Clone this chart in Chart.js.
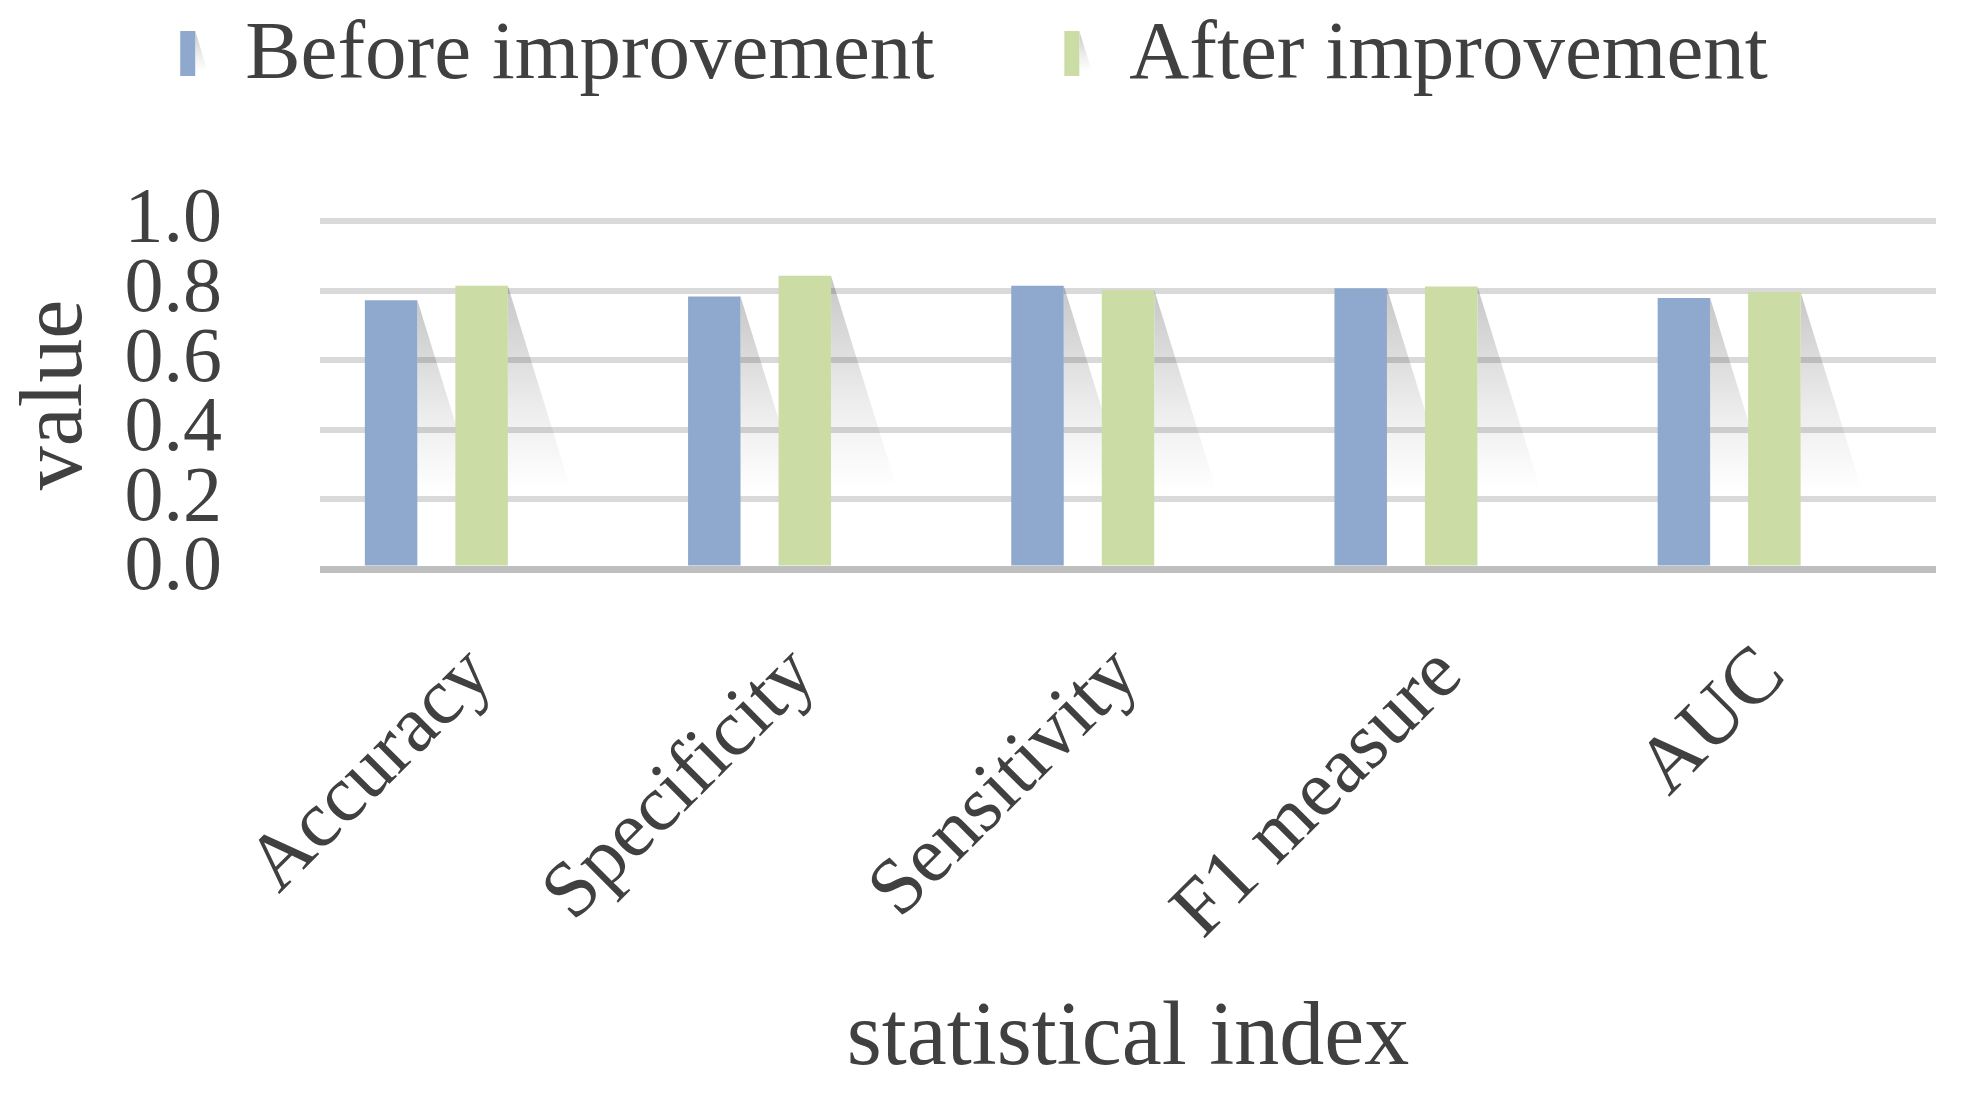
<!DOCTYPE html>
<html>
<head>
<meta charset="utf-8">
<script src="https://cdn.jsdelivr.net/npm/chart.js@4.4.1/dist/chart.umd.min.js"></script>
<style>
    html, body { margin: 0; padding: 0; background: #ffffff; }
    #holder { width: 1964px; height: 1095px; }
</style>
</head>
<body>
<div id="holder"><canvas id="chart-area"></canvas></div>
<script>
/******************************************************************************
* Values.
******************************************************************************/
var categories    = ["Accuracy", "Specificity", "Sensitivity", "F1 measure", "AUC"];
var series_names  = ["Before improvement", "After improvement"];
var before_values = [0.772, 0.783, 0.814, 0.807, 0.779];
var after_values  = [0.814, 0.843, 0.802, 0.812, 0.796];
var y_ticks       = [0.0, 0.2, 0.4, 0.6, 0.8, 1.0];

var FONT       = '"Liberation Serif", "Times New Roman", serif';
var TEXT_COLOR = '#404040';
var BLUE       = '#8fa8ce';
var GREEN      = '#cbdca4';

/******************************************************************************
* Soft grey perspective shadow to the right of every bar.
******************************************************************************/
function draw_shadow(ctx, right, top, base) {
    var len    = (base - top) * 0.73;
    var bottom = top + len;
    var grad   = ctx.createLinearGradient(0, top, 0, bottom);
    grad.addColorStop(0, 'rgba(0,0,0,0.22)');
    grad.addColorStop(0.6, 'rgba(0,0,0,0.07)');
    grad.addColorStop(1, 'rgba(0,0,0,0)');
    ctx.fillStyle = grad;
    ctx.beginPath();
    ctx.moveTo(right, top);
    ctx.lineTo(right + len * 0.31, bottom);
    ctx.lineTo(right, bottom);
    ctx.closePath();
    ctx.fill();
}

var bar_shadow = {
    id: 'bar_shadow',
    beforeDatasetsDraw: function(chart) {
        var ctx = chart.ctx;
        ctx.save();
        chart.data.datasets.forEach(function(ds, i) {
            chart.getDatasetMeta(i).data.forEach(function(bar) {
                if (bar.skip) return;
                draw_shadow(ctx, bar.x + bar.width / 2, bar.y, bar.base);
            });
        });
        ctx.restore();
    }
};

/******************************************************************************
* Legend on top: tall narrow marker with its own little shadow, then the text.
******************************************************************************/
var top_legend = {
    id: 'top_legend',
    afterDraw: function(chart) {
        var ctx      = chart.ctx;
        var size     = 83;
        var box_w    = 15;
        var box_h    = 45;
        var box_gap  = 65;    // box left to text left
        var item_gap = 130;   // text end to next box
        var baseline = 78;

        ctx.save();
        ctx.font = size + 'px ' + FONT;
        ctx.textBaseline = 'alphabetic';

        var items = chart.data.datasets.filter(function(ds) { return ds.label; });
        var total = 0;
        items.forEach(function(ds, i) {
            total += box_gap + ctx.measureText(ds.label).width;
            if (i > 0) total += item_gap;
        });

        // the original sits a touch left of the centre
        var x = (chart.width - total) / 2 - 8;
        items.forEach(function(ds) {
            var top = baseline - box_h - 2;
            draw_shadow(ctx, x + box_w, top, top + box_h + 10);
            ctx.fillStyle = ds.backgroundColor;
            ctx.fillRect(x, top, box_w, box_h);
            ctx.fillStyle = TEXT_COLOR;
            ctx.fillText(ds.label, x + box_gap, baseline);
            x += box_gap + ctx.measureText(ds.label).width + item_gap;
        });
        ctx.restore();
    }
};

var config = {
    type: 'bar',
    data: {
        labels: categories,
        datasets: [
            { label: series_names[0], data: before_values, backgroundColor: BLUE },
            { label: series_names[1], data: after_values,  backgroundColor: GREEN },
            // empty third slot, keeps the pair left of the category centre
            { label: '', data: [], backgroundColor: 'rgba(0,0,0,0)' }
        ]
    },
    options: {
        responsive: true,
        maintainAspectRatio: false,
        animation: false,
        devicePixelRatio: 1,
        categoryPercentage: 0.84,
        barPercentage: 0.58,
        layout: { padding: { top: 221, right: 28, left: 0, bottom: 0 } },
        plugins: {
            legend:  { display: false },
            tooltip: { enabled: false }
        },
        scales: {
            x: {
                afterFit: function(scale) { scale.height = 526; },
                grid:   { display: false },
                border: { display: false },
                ticks: {
                    minRotation: 45,
                    maxRotation: 45,
                    padding: 52,
                    labelOffset: -1,
                    color: TEXT_COLOR,
                    font: { family: FONT, size: 80 }
                },
                title: {
                    display: true,
                    text: 'statistical index',
                    color: TEXT_COLOR,
                    font: { family: FONT, size: 90 },
                    padding: { top: 0, bottom: 1 }
                }
            },
            y: {
                min: 0,
                max: 1,
                afterFit: function(scale) { scale.width = 320; },
                afterBuildTicks: function(scale) {
                    scale.ticks = y_ticks.map(function(v) { return { value: v }; });
                },
                grid: {
                    drawTicks: false,
                    color: function(c) { return c.tick.value === 0 ? '#bfbfbf' : '#d9d9d9'; },
                    lineWidth: function(c) { return c.tick.value === 0 ? 7 : 6; }
                },
                border: { display: false },
                ticks: {
                    autoSkip: false,
                    padding: 98,
                    color: TEXT_COLOR,
                    font: { family: FONT, size: 78 },
                    callback: function(v) { return Number(v).toFixed(1); }
                },
                title: {
                    display: true,
                    text: 'value',
                    color: TEXT_COLOR,
                    font: { family: FONT, size: 88 },
                    padding: { top: 5, bottom: 0 }
                }
            }
        }
    },
    plugins: [bar_shadow, top_legend]
};

var ctx = document.getElementById("chart-area").getContext("2d");
window.myBar = new Chart(ctx, config);
</script>
</body>
</html>
